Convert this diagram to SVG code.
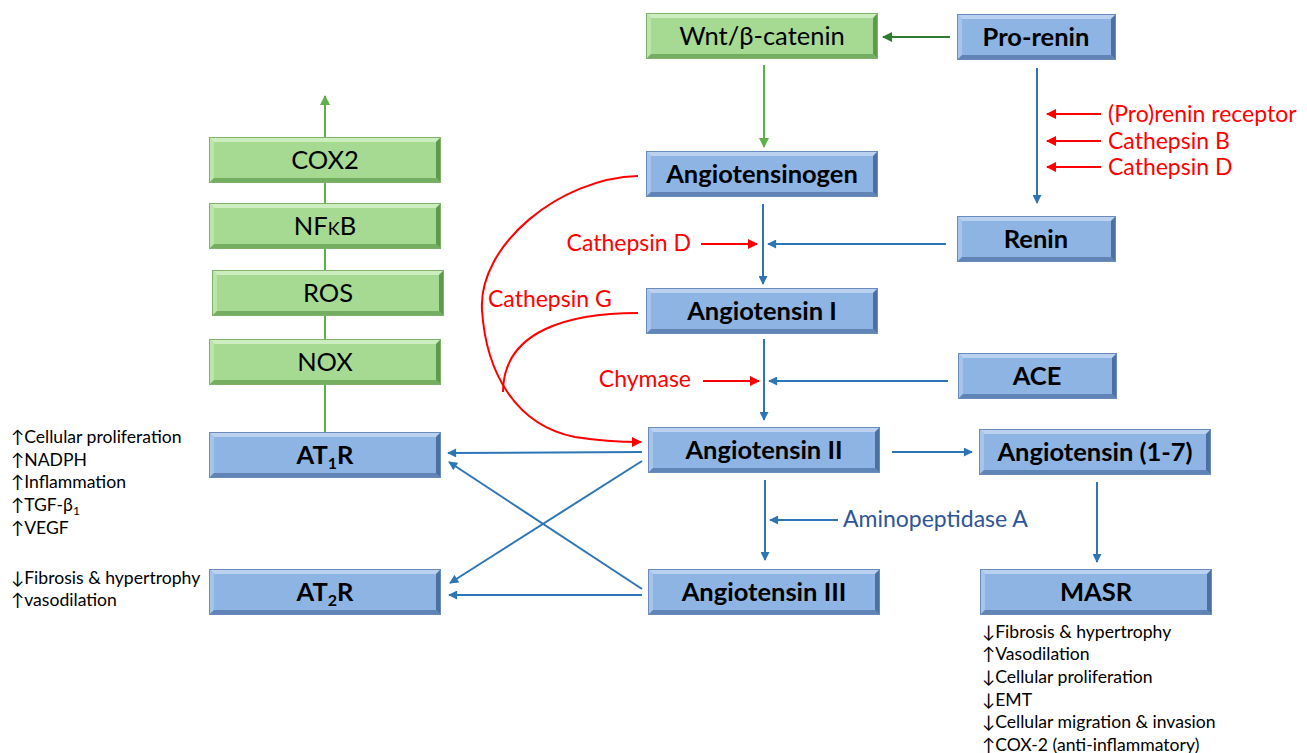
<svg xmlns="http://www.w3.org/2000/svg" xmlns:xlink="http://www.w3.org/1999/xlink" width="1307" height="753" viewBox="0 0 1307 753">
<style>
.bl{font-family:Lato,"Liberation Sans","DejaVu Sans",sans-serif;font-weight:bold;font-size:25.5px;fill:#000;text-anchor:middle}
.gl{font-family:Lato,"Liberation Sans","DejaVu Sans",sans-serif;font-size:25.5px;fill:#000;text-anchor:middle}
.red{font-family:Lato,"Liberation Sans","DejaVu Sans",sans-serif;font-size:23px;fill:#FF0000}
.dblue{font-family:Lato,"Liberation Sans","DejaVu Sans",sans-serif;font-size:23px;fill:#2F5597}
.side{font-family:Lato,"Liberation Sans","DejaVu Sans",sans-serif;font-size:17.6px;fill:#000}
.cb{stroke:#2E75B6;stroke-width:2;fill:none}
.cr{stroke:#FF0000;stroke-width:2;fill:none}
.cg{stroke:#5DB14A;stroke-width:2;fill:none}
.cdg{stroke:#2E7D2E;stroke-width:2;fill:none}
</style>
<defs>
<marker id="ab" viewBox="0 0 10 10" refX="9" refY="5" markerWidth="10" markerHeight="9" markerUnits="userSpaceOnUse" orient="auto"><path d="M0,0 L10,5 L0,10 z" fill="#2E75B6"/></marker>
<marker id="ar" viewBox="0 0 10 10" refX="9" refY="5" markerWidth="11" markerHeight="10" markerUnits="userSpaceOnUse" orient="auto"><path d="M0,0 L10,5 L0,10 z" fill="#FF0000"/></marker>
<marker id="ag" viewBox="0 0 10 10" refX="9" refY="5" markerWidth="11" markerHeight="10" markerUnits="userSpaceOnUse" orient="auto"><path d="M0,0 L10,5 L0,10 z" fill="#5DB14A"/></marker>
<marker id="adg" viewBox="0 0 10 10" refX="9" refY="5" markerWidth="11" markerHeight="10" markerUnits="userSpaceOnUse" orient="auto"><path d="M0,0 L10,5 L0,10 z" fill="#2E7D2E"/></marker>
<symbol id="bB" viewBox="0 0 232 46" width="232" height="46">
<rect width="232" height="46" fill="#8DB4E3"/>
<polygon points="0,0 232,0 227,5 5,5" fill="#BAD2F0"/>
<polygon points="0,0 5,5 5,41 0,46" fill="#A7C4EA"/>
<polygon points="0,46 5,41 227,41 232,46" fill="#5F84B5"/>
<polygon points="232,0 232,46 227,41 227,5" fill="#4C70A1"/>
<rect x="0.5" y="0.5" width="231" height="45" fill="none" stroke="#6A8CBC"/>
</symbol>
<symbol id="bS" viewBox="0 0 159 46" width="159" height="46">
<rect width="159" height="46" fill="#8DB4E3"/>
<polygon points="0,0 159,0 154,5 5,5" fill="#BAD2F0"/>
<polygon points="0,0 5,5 5,41 0,46" fill="#A7C4EA"/>
<polygon points="0,46 5,41 154,41 159,46" fill="#5F84B5"/>
<polygon points="159,0 159,46 154,41 154,5" fill="#4C70A1"/>
<rect x="0.5" y="0.5" width="158" height="45" fill="none" stroke="#6A8CBC"/>
</symbol>
<symbol id="gB" viewBox="0 0 232 46" width="232" height="46">
<rect width="232" height="46" fill="#A6DA93"/>
<polygon points="0,0 232,0 227,5 5,5" fill="#CCEDBE"/>
<polygon points="0,0 5,5 5,41 0,46" fill="#BCE5AA"/>
<polygon points="0,46 5,41 227,41 232,46" fill="#74AE60"/>
<polygon points="232,0 232,46 227,41 227,5" fill="#5E9A4B"/>
<rect x="0.5" y="0.5" width="231" height="45" fill="none" stroke="#7FB36C"/>
</symbol>
</defs>

<g id="connectors">
<line class="cg" x1="325" y1="432" x2="325" y2="96" marker-end="url(#ag)"/>
<line class="cdg" x1="950" y1="37" x2="883" y2="37" marker-end="url(#adg)"/>
<line class="cg" x1="764" y1="65" x2="764" y2="147" marker-end="url(#ag)"/>
<line class="cb" x1="1037" y1="68" x2="1037" y2="203" marker-end="url(#ab)"/>
<line class="cr" x1="1101" y1="114" x2="1047" y2="114" marker-end="url(#ar)"/>
<line class="cr" x1="1101" y1="141" x2="1047" y2="141" marker-end="url(#ar)"/>
<line class="cr" x1="1101" y1="167" x2="1047" y2="167" marker-end="url(#ar)"/>
<line class="cb" x1="763" y1="204" x2="763" y2="284" marker-end="url(#ab)"/>
<line class="cb" x1="946" y1="244" x2="768" y2="244" marker-end="url(#ab)"/>
<line class="cr" x1="701" y1="244" x2="757" y2="244" marker-end="url(#ar)"/>
<line class="cb" x1="764" y1="339" x2="764" y2="420" marker-end="url(#ab)"/>
<line class="cb" x1="948" y1="381" x2="769" y2="381" marker-end="url(#ab)"/>
<line class="cr" x1="703" y1="381" x2="759" y2="381" marker-end="url(#ar)"/>
<line class="cb" x1="892" y1="452" x2="972" y2="452" marker-end="url(#ab)"/>
<line class="cb" x1="1097" y1="482" x2="1097" y2="562" marker-end="url(#ab)"/>
<line class="cb" x1="765" y1="480" x2="765" y2="560" marker-end="url(#ab)"/>
<line class="cb" x1="838" y1="520" x2="770" y2="520" marker-end="url(#ab)"/>
<line class="cb" x1="642" y1="452" x2="448" y2="453" marker-end="url(#ab)"/>
<line class="cb" x1="642" y1="461" x2="450" y2="583" marker-end="url(#ab)"/>
<line class="cb" x1="642" y1="589" x2="449" y2="462" marker-end="url(#ab)"/>
<line class="cb" x1="642" y1="595" x2="449" y2="595" marker-end="url(#ab)"/>
<path class="cr" d="M638,176 C560,178 478,245 482,310 C486,372 515,425 575,437 C600,441 620,442 641,442" marker-end="url(#ar)"/>
<path class="cr" d="M638,313 C570,313 503,330 503,392"/>
</g>

<g id="wnt"><use href="#gB" x="646" y="13"/><text class="gl" x="762" y="45">Wnt/β-catenin</text></g>
<g id="prorenin"><use href="#bS" x="957" y="14"/><text class="bl" x="1036" y="46">Pro-renin</text></g>
<g id="angiotensinogen"><use href="#bB" x="646" y="151"/><text class="bl" x="762" y="183">Angiotensinogen</text></g>
<g id="renin"><use href="#bS" x="957" y="216"/><text class="bl" x="1036" y="248">Renin</text></g>
<g id="angI"><use href="#bB" x="646" y="288"/><text class="bl" x="762" y="320">Angiotensin I</text></g>
<g id="ace"><use href="#bS" x="958" y="353"/><text class="bl" x="1037" y="385">ACE</text></g>
<g id="angII"><use href="#bB" x="648" y="427"/><text class="bl" x="764" y="459">Angiotensin II</text></g>
<g id="ang17"><use href="#bB" x="979" y="429"/><text class="bl" x="1095" y="461">Angiotensin (1-7)</text></g>
<g id="angIII"><use href="#bB" x="648" y="569"/><text class="bl" x="764" y="601">Angiotensin III</text></g>
<g id="masr"><use href="#bB" x="980" y="569"/><text class="bl" x="1096" y="601">MASR</text></g>
<g id="at1r"><use href="#bB" x="209" y="432"/><text class="bl" x="325" y="464">AT<tspan font-size="16" dy="5">1</tspan><tspan dy="-5">R</tspan></text></g>
<g id="at2r"><use href="#bB" x="209" y="569"/><text class="bl" x="325" y="601">AT<tspan font-size="16" dy="5">2</tspan><tspan dy="-5">R</tspan></text></g>
<g id="cox2"><use href="#gB" x="209" y="137"/><text class="gl" x="325" y="169">COX2</text></g>
<g id="nfkb"><use href="#gB" x="209" y="203"/><text class="gl" x="325" y="235">NF<tspan font-size="18">K</tspan>B</text></g>
<g id="ros"><use href="#gB" x="212" y="270"/><text class="gl" x="328" y="302">ROS</text></g>
<g id="nox"><use href="#gB" x="209" y="339"/><text class="gl" x="325" y="371">NOX</text></g>

<g id="labels">
<text class="red" x="1108" y="122">(Pro)renin receptor</text>
<text class="red" x="1108" y="149">Cathepsin B</text>
<text class="red" x="1108" y="175">Cathepsin D</text>
<text class="red" x="691" y="251" text-anchor="end">Cathepsin D</text>
<text class="red" x="691" y="387" text-anchor="end">Chymase</text>
<text class="red" x="488" y="307">Cathepsin G</text>
<text class="dblue" x="843" y="527">Aminopeptidase A</text>
</g>

<g id="at1r-effects" class="side">
<text x="11" y="443">↑Cellular proliferation</text>
<text x="11" y="466">↑NADPH</text>
<text x="11" y="488">↑Inflammation</text>
<text x="11" y="511">↑TGF-β<tspan font-size="12" dy="4">1</tspan></text>
<text x="11" y="534">↑VEGF</text>
</g>
<g id="at2r-effects" class="side">
<text x="11" y="584">↓Fibrosis &amp; hypertrophy</text>
<text x="11" y="606">↑vasodilation</text>
</g>
<g id="masr-effects" class="side">
<text x="982" y="638">↓Fibrosis &amp; hypertrophy</text>
<text x="982" y="660">↑Vasodilation</text>
<text x="982" y="683">↓Cellular proliferation</text>
<text x="982" y="706">↓EMT</text>
<text x="982" y="728">↓Cellular migration &amp; invasion</text>
<text x="982" y="751">↑COX-2 (anti-inflammatory)</text>
</g>
</svg>
